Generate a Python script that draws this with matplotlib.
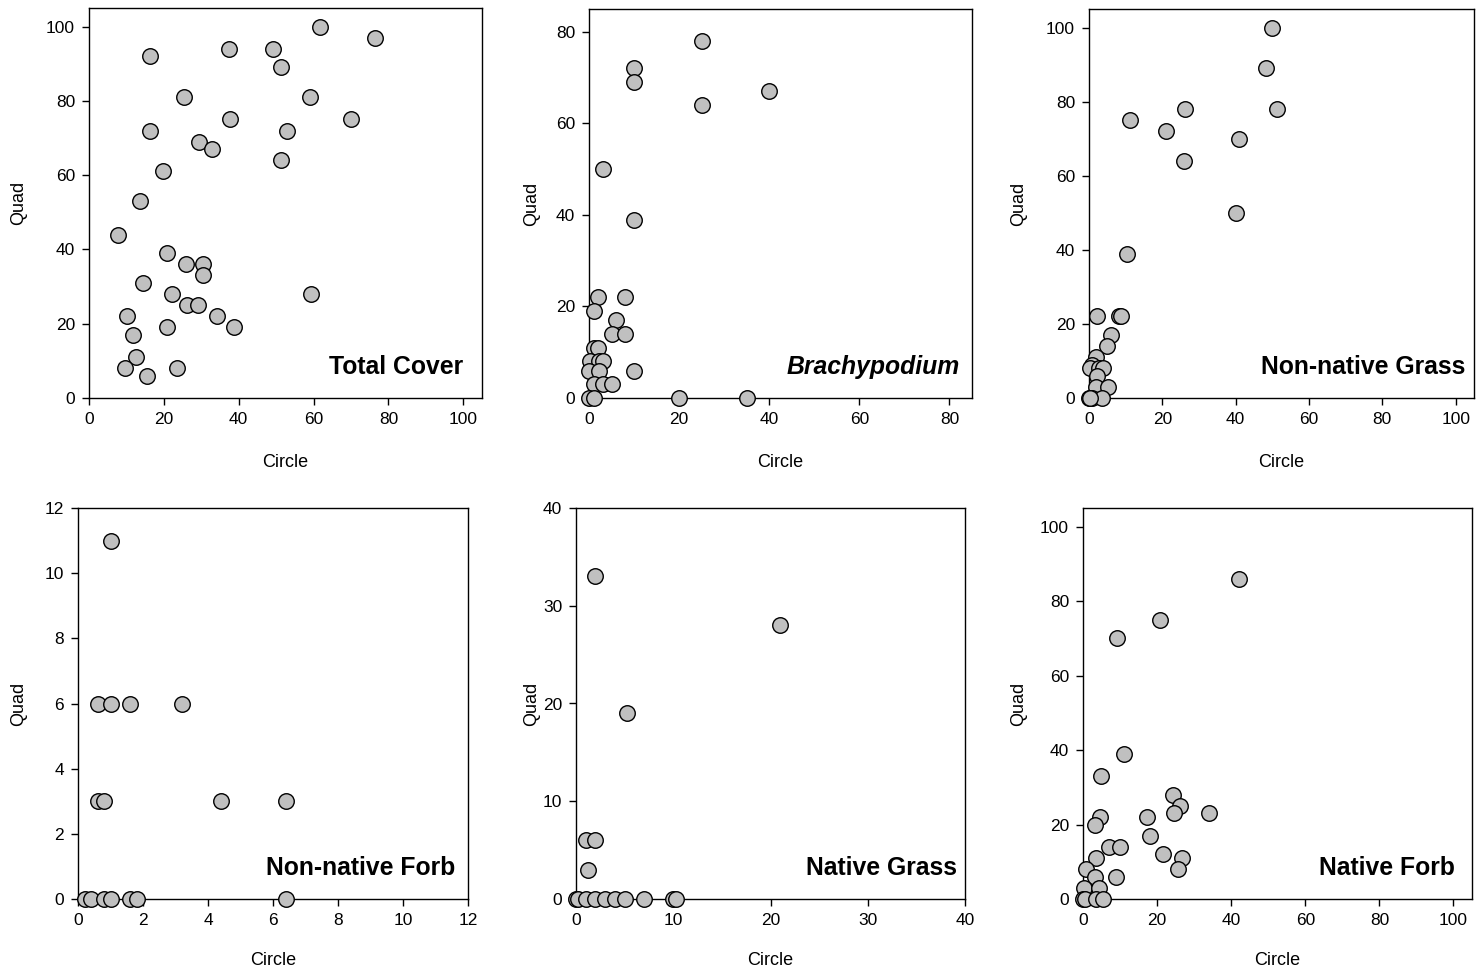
import matplotlib
matplotlib.use("Agg")
import matplotlib.pyplot as plt

plt.rcParams['font.family'] = ['Liberation Sans', 'DejaVu Sans']

# Total cover
total_circle = [61.7, 76.4, 16.2, 37.3, 49.2, 51.4, 25.5, 59.0, 37.6, 70.0, 16.3, 53.0,
                29.3, 32.8, 51.4, 19.8, 13.7, 7.8, 20.9, 26.0, 30.5, 30.5, 14.4, 22.3,
                59.4, 26.2, 29.1, 10.2, 34.2, 20.9, 38.7, 11.8, 12.5, 9.6, 23.6, 15.6]
total_quad = [100, 97, 92, 94, 94, 89, 81, 81, 75, 75, 72, 72,
              69, 67, 64, 61, 53, 44, 39, 36, 36, 33, 31, 28,
              28, 25, 25, 22, 22, 19, 19, 17, 11, 8, 8, 6]

# Brachypodium
brachy_circle = [25, 10, 10, 25, 40, 3, 10, 2, 8, 1, 6, 5, 8, 1, 2,
                 0.2, 2.3, 3.2, 0, 2.3, 10, 1, 3, 5.2, 0, 1, 20, 35]
brachy_quad = [78, 72, 69, 64, 67, 50, 39, 22, 22, 19, 17, 14, 14, 11, 11,
               8, 8, 8, 6, 6, 6, 3, 3, 3, 0, 0, 0, 0]

# Non-native grass
nngrass_circle = [50, 48.2, 26.1, 51.4, 11.3, 21, 41, 26, 40.2, 10.3, 2.3, 8.3, 8.7,
                  6, 5, 1.9, 0.7, 0.3, 2.8, 3.7, 2.3, 1.9, 5.3, 0, 0.7, 3.5, 0.3]
nngrass_quad = [100, 89, 78, 78, 75, 72, 70, 64, 50, 39, 22, 22, 22,
                17, 14, 11, 9, 8, 8, 8, 6, 3, 3, 0, 0, 0, 0]

# Non-native forb
nnforb_circle = [1.0, 0.6, 1.0, 1.6, 3.2, 0.6, 0.8, 4.4, 6.4,
                 0.2, 0.4, 0.8, 1.0, 1.6, 1.8, 6.4]
nnforb_quad = [11, 6, 6, 6, 6, 3, 3, 3, 3,
               0, 0, 0, 0, 0, 0, 0]

# Native grass
ngrass_circle = [2, 21, 5.2, 1, 2, 1.2, 0, 0.2, 1, 2, 3, 4, 5, 7, 10, 10.3]
ngrass_quad = [33, 28, 19, 6, 6, 3, 0, 0, 0, 0, 0, 0, 0, 0, 0, 0]

# Native forb
nforb_circle = [42, 20.8, 9.2, 11.1, 4.8, 24.4, 26.2, 24.6, 33.9, 17.4, 4.5, 3.3,
                18, 6.9, 10.1, 21.7, 3.5, 26.8, 25.6, 9, 0.9, 3.3, 0.4, 4.4,
                0, 0.6, 3.5, 5.5]
nforb_quad = [86, 75, 70, 39, 33, 28, 25, 23, 23, 22, 22, 20,
              17, 14, 14, 12, 11, 11, 8, 6, 8, 6, 3, 3,
              0, 0, 0, 0]

titles = ["Total Cover", "Brachypodium", "Non-native Grass",
          "Non-native Forb", "Native Grass", "Native Forb"]
xs = [total_circle, brachy_circle, nngrass_circle, nnforb_circle, ngrass_circle, nforb_circle]
ys = [total_quad, brachy_quad, nngrass_quad, nnforb_quad, ngrass_quad, nforb_quad]
limits = [105, 85, 105, 12, 40, 105]
steps = [20, 20, 20, 2, 10, 20]

W, H = 1477, 971
fig = plt.figure(figsize=(W / 100, H / 100), dpi=100)

# panel boxes in pixels: left, right, top, bottom
boxes = [(89, 482, 8, 398), (589, 972, 9, 398), (1089, 1474, 9, 398),
         (78, 468, 508, 899), (576, 965, 508, 899), (1083, 1472, 508, 899)]
ylabel_px = [27, 540, 1027, 27, 540, 1027]   # right edge of the rotated "Quad"
xlabel_gap = [56, 56, 56, 53, 53, 53]        # gap from axis to top of "Circle"
title_right_gap = [19, 12, 9, 13, 8, 17]

for i in range(6):
    l, r, t, b = boxes[i]
    ax = fig.add_axes([l / W, 1 - b / H, (r - l) / W, (b - t) / H])
    ax.scatter(xs[i], ys[i], s=125, facecolor='#c0c0c0', edgecolor='black',
               linewidth=1.0, zorder=3, clip_on=False)
    lim = limits[i]
    ax.set_xlim(0, lim)
    ax.set_ylim(0, lim)
    ticks = list(range(0, int(lim) + 1, steps[i]))
    ax.set_xticks(ticks)
    ax.set_yticks(ticks)
    ax.tick_params(direction='out', length=5, width=1, labelsize=12.5,
                   top=False, right=False, pad=5)
    for sp in ax.spines.values():
        sp.set_linewidth(1.0)
    ax.set_xlabel("Circle", fontsize=13)
    ax.set_ylabel("Quad", fontsize=13)
    ax.xaxis.set_label_coords(0.5, -xlabel_gap[i] / (b - t), transform=ax.transAxes)
    ax.yaxis.set_label_coords((ylabel_px[i] - l) / (r - l), 0.5, transform=ax.transAxes)
    style = 'italic' if titles[i] == "Brachypodium" else 'normal'
    ax.annotate(titles[i], xy=(1, 0), xycoords='axes fraction',
                xytext=(-title_right_gap[i], 24), textcoords='offset pixels',
                ha='right', va='baseline', fontsize=17.8, fontweight='bold',
                fontstyle=style)

fig.savefig("out.png", dpi=100)
